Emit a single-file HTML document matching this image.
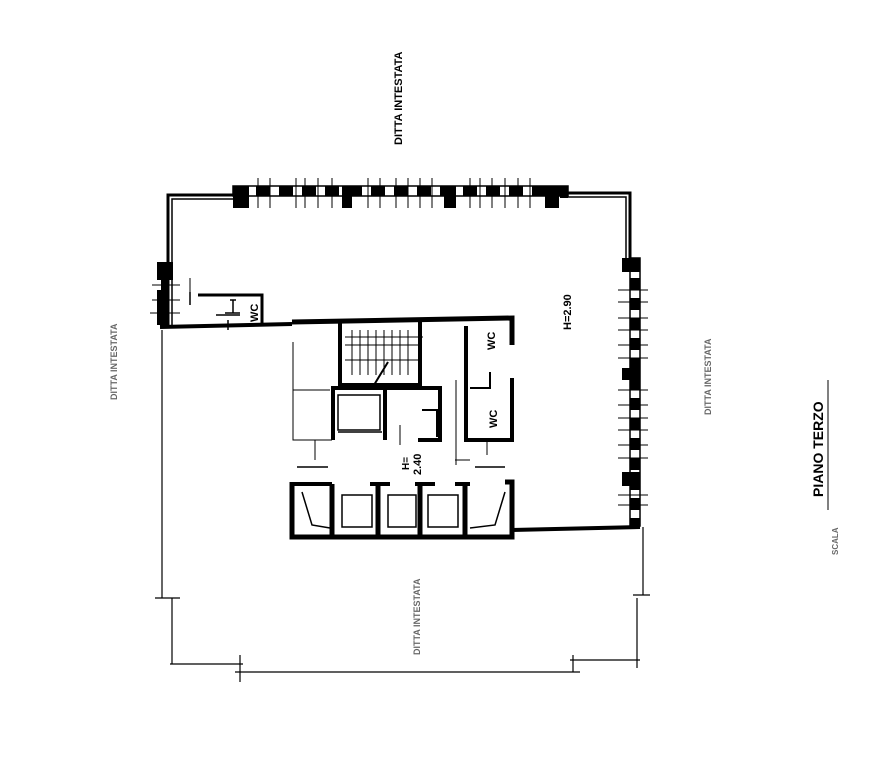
<!DOCTYPE html>
<html><head><meta charset="utf-8"><style>
html,body{margin:0;padding:0;background:#fff;width:893px;height:760px;overflow:hidden}
svg{display:block}
text{font-family:"Liberation Sans",sans-serif;font-weight:bold;fill:#000}
</style></head><body>
<svg width="893" height="760" viewBox="0 0 893 760" xmlns="http://www.w3.org/2000/svg">
<g stroke="#000" fill="none">
<path d="M168 325 L168 195 L233 195" stroke-width="3"/>
<path d="M172 325 L172 199 L233 199" stroke-width="1.5"/>
<path d="M568 193 L630 193 L630 258" stroke-width="3"/>
<path d="M568 197 L626 197 L626 258" stroke-width="1.5"/>
<rect x="233" y="186" width="335" height="10" stroke-width="1.5"/>
<line x1="233" y1="191" x2="568" y2="191" stroke-width="9" stroke-dasharray="14 9"/>
<rect x="630" y="258" width="10" height="268" stroke-width="1.5"/>
<line x1="635" y1="258" x2="635" y2="526" stroke-width="9" stroke-dasharray="12 8"/>
<line x1="164" y1="262" x2="164" y2="325" stroke-width="6"/>
</g>
<g fill="#000">
<rect x="233" y="186" width="16" height="22"/>
<rect x="342" y="186" width="10" height="22"/>
<rect x="444" y="186" width="12" height="22"/>
<rect x="545" y="186" width="14" height="22"/>
<rect x="560" y="186" width="8" height="12"/>
<rect x="622" y="258" width="18" height="14"/>
<rect x="622" y="368" width="18" height="12"/>
<rect x="622" y="472" width="18" height="14"/>
<rect x="157" y="262" width="16" height="18"/>
<rect x="157" y="290" width="8" height="35"/>
</g>
<g stroke="#000" stroke-width="1">
<path d="M258 178V208M270 178V208M296 178V208M305 178V208M318 178V208M332 178V208M368 178V208M380 178V208M396 178V208M408 178V208M420 178V208M432 178V208M470 178V208M480 178V208M492 178V208M505 178V208M518 178V208M530 178V208"/>
<path d="M618 290H648M618 302H648M618 318H648M618 330H648M618 345H648M618 358H648M618 390H648M618 405H648M618 418H648M618 430H648M618 445H648M618 458H648M618 495H648M618 505H648"/>
<path d="M152 285H180M152 300H180M150 313H180"/>
</g>
<g stroke="#000" fill="none">
<path d="M160 327 L292 324" stroke-width="4"/>
<path d="M198 295 L262 295 L262 326" stroke-width="3"/>
<path d="M190 292V305M230 300H236M233 300V313M225 313H240M216 315H240M228 320V330" stroke-width="1.5"/>
<path d="M190 278V305" stroke-width="1"/>
<path d="M292 322 L512 318 L512 345" stroke-width="5"/>
<path d="M512 378 L512 440 L466 440 L466 326" stroke-width="4"/>
<path d="M490 372 L490 388 L470 388" stroke-width="2"/>
<path d="M340 322 L340 385 L420 385 L420 322" stroke-width="4"/>
<path d="M345 345H420M345 337H423M345 360H420" stroke-width="1"/>
<path d="M352 330V375M360 330V375M368 330V375M376 330V375M384 330V375M392 330V375M400 330V375M408 330V375" stroke-width="1"/>
<path d="M374 385L388 362" stroke-width="2"/>
<path d="M333 440 L333 388 L440 388 L440 440 L418 440" stroke-width="4"/>
<path d="M385 440 L385 388" stroke-width="4"/>
<path d="M338 395H380V430H338ZM338 432H382" stroke-width="1.5"/>
<path d="M422 410H437V437" stroke-width="2"/>
<path d="M293 342V440H332M293 390H330" stroke-width="1"/>
<path d="M315 440V460M400 425V445M456 380V465M455 460H470M487 440V455" stroke-width="1"/>
<path d="M297 467H328M475 467H505" stroke-width="1.5"/>
<path d="M292 482 L292 537 L512 537 L512 482 L505 482" stroke-width="5"/>
<path d="M332 484 L332 537M378 484 L378 537M420 484 L420 537M465 484 L465 537" stroke-width="5"/>
<path d="M292 484 L332 484M370 484H390M415 484H435M455 484H470" stroke-width="4"/>
<path d="M302 492L312 525L330 528M505 492L495 525L470 528" stroke-width="1.5"/>
<path d="M342 495H372V527H342ZM388 495H416V527H388ZM428 495H458V527H428Z" stroke-width="1.5"/>
<path d="M512 530 L640 527" stroke-width="4"/>
<path d="M162 330 L162 598 M155 598 H180 M172 598 V664 M170 664 H243 M240 655 V682 M235 672 H580 M573 655 V672 M570 660 H640 M637 598 V668 M633 595 H650 M643 527 V595" stroke-width="1.2"/>
</g>
<text transform="translate(402,145) rotate(-90)" font-size="11">DITTA INTESTATA</text>
<text transform="translate(571,330) rotate(-90)" font-size="11" font-weight="normal">H=2.90</text>
<text transform="translate(258,322) rotate(-90)" font-size="11">WC</text>
<text transform="translate(495,350) rotate(-90)" font-size="11">WC</text>
<text transform="translate(497,428) rotate(-90)" font-size="11">WC</text>
<text transform="translate(409,470) rotate(-90)" font-size="10">H=</text>
<text transform="translate(421,475) rotate(-90)" font-size="11" font-weight="normal">2.40</text>
<text transform="translate(117,400) rotate(-90)" font-size="9" opacity="0.6">DITTA INTESTATA</text>
<text transform="translate(711,415) rotate(-90)" font-size="9" opacity="0.6">DITTA INTESTATA</text>
<text transform="translate(420,655) rotate(-90)" font-size="9" opacity="0.6">DITTA INTESTATA</text>
<text transform="translate(823,497) rotate(-90)" font-size="14" font-weight="normal">PIANO TERZO</text>
<line x1="828" y1="380" x2="828" y2="510" stroke="#000" stroke-width="1"/>
<text transform="translate(838,555) rotate(-90)" font-size="8" opacity="0.6">SCALA</text>
</svg>
</body></html>
